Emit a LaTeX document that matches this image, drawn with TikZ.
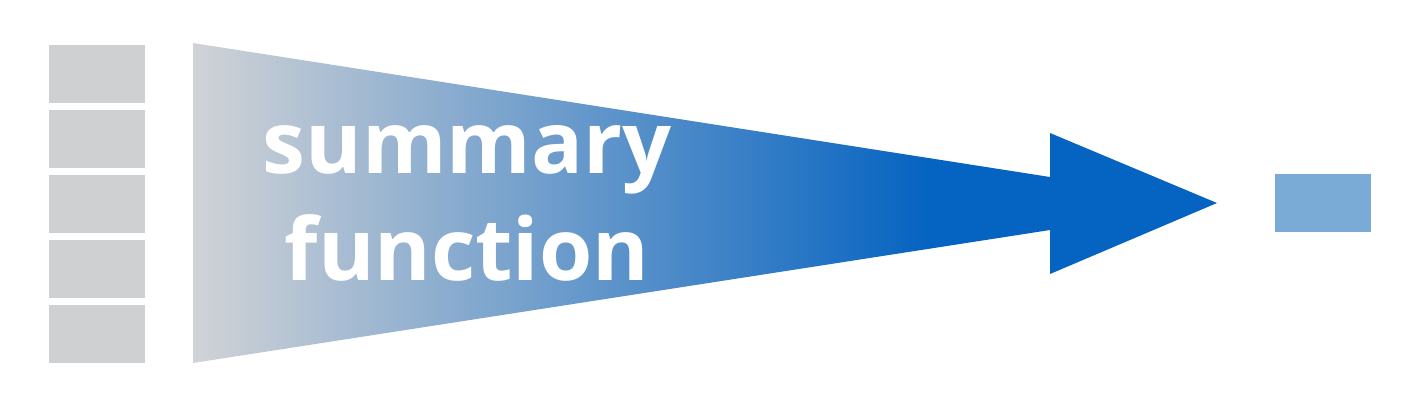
\documentclass[tikz,border=0pt]{standalone}
\usepackage{fontspec}
\setmainfont{Open Sans}
\usepackage{tikz}
\usetikzlibrary{positioning}

\definecolor{cellgray}{HTML}{CFD0D2}
\definecolor{fangray}{HTML}{D1D3D6}
\definecolor{fanblue}{HTML}{0563C1}
\definecolor{outblue}{HTML}{79ABD6}

% path bbox is mapped onto 25bp..75bp
\pgfdeclarehorizontalshading{fanshading}{100bp}{color(0bp)=(fangray); color(25bp)=(fangray);
  color(61bp)=(fanblue); color(100bp)=(fanblue)}

\begin{document}
\begin{tikzpicture}[x=0.01cm, y=-0.01cm,
    cell/.style={fill=cellgray, inner sep=0pt, minimum width=0.96cm, minimum height=0.58cm},
    result/.style={fill=outblue, inner sep=0pt, minimum width=0.96cm, minimum height=0.58cm},
    fan/.style={shading=fanshading},
    label/.style={text=white, align=center, font=\bfseries\fontsize{24.5}{30.4}\selectfont}
  ]
    \useasboundingbox (0,0) rectangle (1408,402);
    \foreach \i in {0,...,4}
      \node[cell] (cell\i) at (97,74+65*\i) {};
    \shade[fan] (193,43) -- (1050,177) -- (1050,133) -- (1217,203) -- (1050,274)
      -- (1050,230) -- (193,363) -- cycle;
    \node[label] (summary) at (467,203) {summary\\function};
    \node[result] (out) at (1323,203) {};
  \end{tikzpicture}
\end{document}
